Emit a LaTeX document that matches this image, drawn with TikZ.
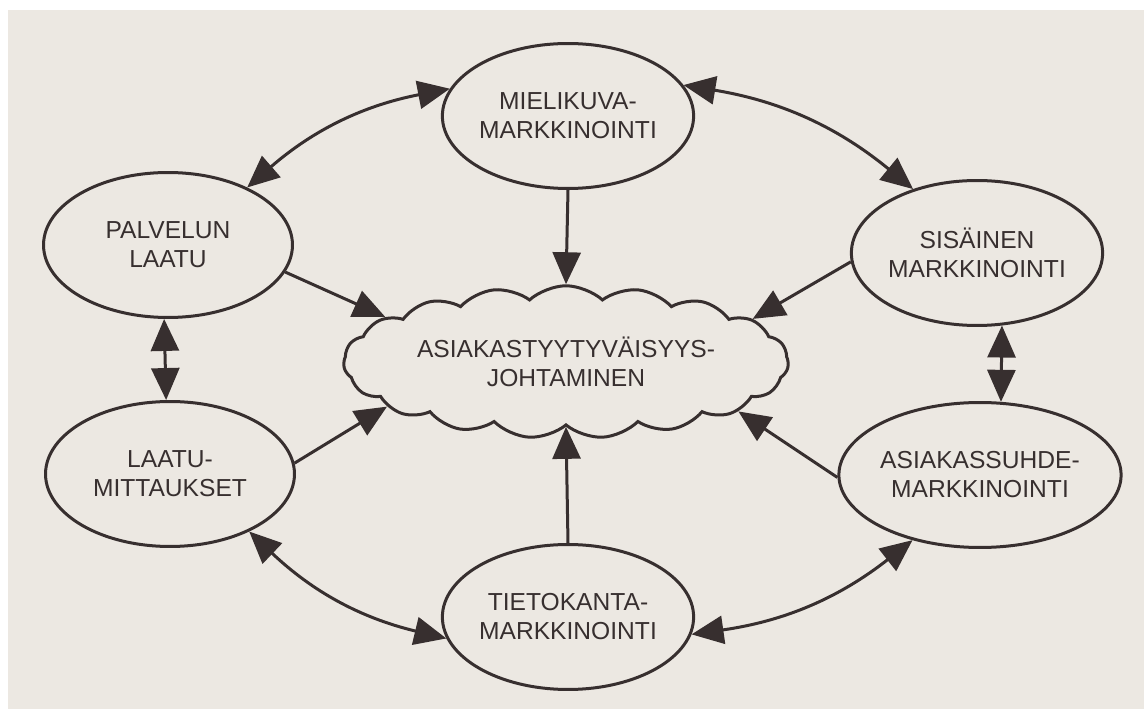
\documentclass[tikz,border=0pt]{standalone}
\usepackage{fontspec}
\setmainfont{Liberation Sans}
\usepackage{xcolor}
\usepackage{tikz}
\usetikzlibrary{shapes.geometric}
\usetikzlibrary{shapes.symbols}
\usetikzlibrary{arrows.meta}
\definecolor{paper}{RGB}{236, 232, 226}
\definecolor{ink}{RGB}{55, 47, 47}

\begin{document}
\begin{tikzpicture}[x=0.02cm, y=-0.02cm, line width=0.06cm,
            >={Triangle[length=0.64cm, width=0.56cm]},
            area/.style = {ellipse, draw=ink, text=ink, align=center, inner sep=0pt, minimum width=4.98cm, minimum height=2.9cm, font=\fontsize{14}{16.5}\selectfont},
            centre/.style = {cloud, cloud puffs=19, cloud puff arc=85, cloud ignores aspect, draw=ink, text=ink, align=center, inner sep=0pt, minimum width=8.9cm, minimum height=3.05cm, font=\fontsize{14}{16.5}\selectfont},
            link/.style = {->, draw=ink},
            both/.style = {<->, draw=ink}]
        \useasboundingbox (0,0) rectangle (1144,709);
        \fill[white] (-10,-10) rectangle (1160,725);
        \fill[paper] (8,10) rectangle (1160,725);

        \node[centre] (cloud) at (566,362) {ASIAKASTYYTYVÄISYYS-\\JOHTAMINEN};
        \node[area] (mieli) at (568,116) {MIELIKUVA-\\MARKKINOINTI};
        \node[area] (palvelun) at (168,245) {PALVELUN\\LAATU};
        \node[area] (laatu) at (170,474) {LAATU-\\MITTAUKSET};
        \node[area] (sisainen) at (977,253) {SISÄINEN\\MARKKINOINTI};
        \node[area] (asiakas) at (980,475) {ASIAKASSUHDE-\\MARKKINOINTI};
        \node[area] (tieto) at (568,617) {TIETOKANTA-\\MARKKINOINTI};

        \draw[both] (palvelun.36) to[bend left=15] (mieli.167);
        \draw[both] (mieli.15) to[bend left=15] (sisainen.135);
        \draw[both] (palvelun.-93) -- (laatu.93);
        \draw[both] (sisainen.-71) -- (asiakas.74);
        \draw[both] (laatu.-36) to[bend right=15] (tieto.190);
        \draw[both] (tieto.-8) to[bend right=15] (asiakas.224);

        \draw[link] (mieli.south) -- (cloud.north);
        \draw[link] (tieto.north) -- (cloud.south);
        \draw[link] (palvelun.-13) -- (cloud.166);
        \draw[link] (sisainen.184) -- (cloud.13);
        \draw[link] (laatu.5) -- (cloud.194);
        \draw[link] (asiakas.181) -- (cloud.-16);
        \end{tikzpicture}
\end{document}
